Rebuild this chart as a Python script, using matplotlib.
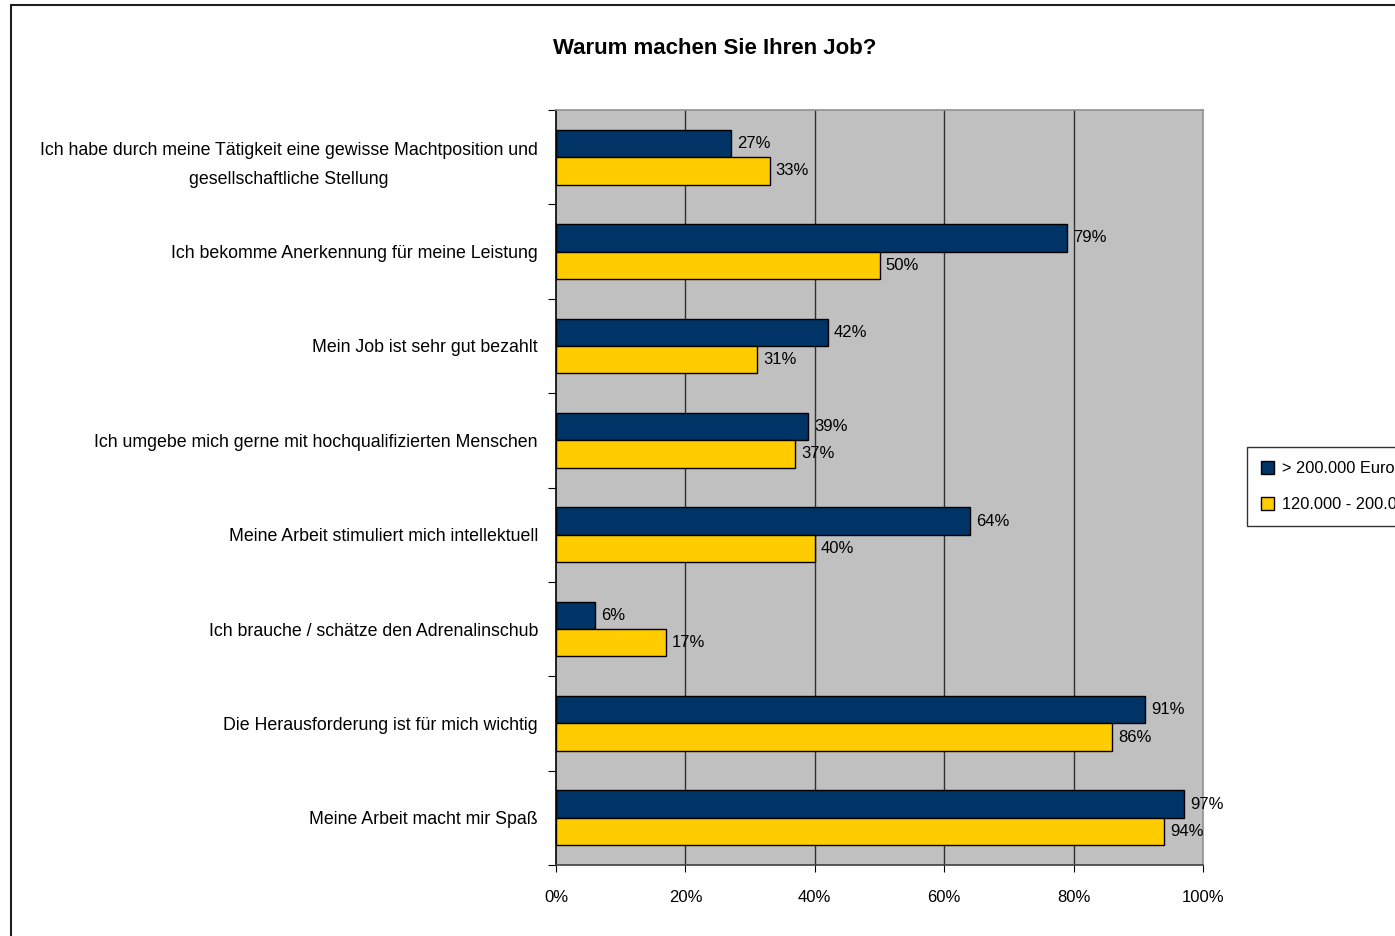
import numpy as np
import matplotlib.pyplot as plt
from matplotlib.patches import Rectangle

plt.rcParams['font.family'] = ['Liberation Sans', 'DejaVu Sans']

# Daten
kategorien = [
    'Ich habe durch meine Tätigkeit eine gewisse Machtposition und\ngesellschaftliche Stellung',
    'Ich bekomme Anerkennung für meine Leistung',
    'Mein Job ist sehr gut bezahlt',
    'Ich umgebe mich gerne mit hochqualifizierten Menschen',
    'Meine Arbeit stimuliert mich intellektuell',
    'Ich brauche / schätze den Adrenalinschub',
    'Die Herausforderung ist für mich wichtig',
    'Meine Arbeit macht mir Spaß',
]
werte_ueber_200 = [27, 79, 42, 39, 64, 6, 91, 97]
werte_120_200 = [33, 50, 31, 37, 40, 17, 86, 94]
serien = ['> 200.000 Euro', '120.000 - 200.000 Euro']
x_ticks = [0, 20, 40, 60, 80, 100]

fig = plt.figure(figsize=(13.95, 9.36), dpi=100)
ax = fig.add_axes([556/1395, 1-865/936, (1203-556)/1395, (865-110)/936])
ax.set_facecolor('#C0C0C0')

y = np.arange(len(kategorien))
h = 0.29
b1 = ax.barh(y - h/2, werte_ueber_200, height=h, color='#003366',
             edgecolor='black', linewidth=1, label=serien[0], zorder=3)
b2 = ax.barh(y + h/2, werte_120_200, height=h, color='#FFCC00',
             edgecolor='black', linewidth=1, label=serien[1], zorder=3)

for bars, vals in [(b1, werte_ueber_200), (b2, werte_120_200)]:
    for bar, v in zip(bars, vals):
        ax.annotate(f'{v}%', (bar.get_width(), bar.get_y() + bar.get_height()/2),
                    xytext=(4.5, 0), textcoords='offset points',
                    ha='left', va='center', fontsize=12, zorder=4)

ax.set_xlim(0, 100)
ax.set_ylim(len(kategorien) - 0.5, -0.5)

# Gitterlinien
for xv in x_ticks[1:-1]:
    ax.axvline(xv, color='#303030', linewidth=1, zorder=1)

ax.set_xticks(x_ticks)
ax.set_xticklabels([f'{t}%' for t in x_ticks], fontsize=12)
ax.tick_params(axis='x', direction='out', length=5, pad=13, color='black')

ax.set_yticks(np.arange(-0.5, len(kategorien)))
ax.set_yticklabels([])
ax.tick_params(axis='y', which='major', direction='out', length=6, color='black')
ax.set_yticks(y, minor=True)
ax.set_yticklabels(kategorien, minor=True, fontsize=12.8, multialignment='center',
                   linespacing=1.9)
ax.tick_params(axis='y', which='minor', length=0, pad=13)

ax.spines['left'].set_color('black')
ax.spines['bottom'].set_color('#404040')
ax.spines['top'].set_color('#909090')
ax.spines['right'].set_color('#909090')
for s in ax.spines.values():
    s.set_linewidth(1.2)

fig.text(715/1395, 1-48/936, 'Warum machen Sie Ihren Job?', ha='center', va='center',
         fontsize=16, fontweight='bold')

leg = fig.legend(handles=[b1, b2], loc='upper left', bbox_to_anchor=(1247/1395, 1-447/936),
                 borderaxespad=0, frameon=True, fancybox=False, edgecolor='black',
                 fontsize=11.8, handlelength=0.8, handleheight=0.8, handletextpad=0.5,
                 labelspacing=1.3, borderpad=0.85)
leg.get_frame().set_linewidth(1)

# Rahmen des Diagramms
fig.patches.append(Rectangle((11/1395, -0.1), 1.2, 1.1 - 5/936, transform=fig.transFigure,
                             fill=False, edgecolor='#202020', linewidth=1.5))

plt.savefig('out.png', dpi=100)
